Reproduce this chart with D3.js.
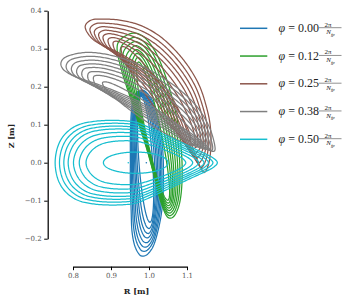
<!DOCTYPE html>
<html><head><meta charset="utf-8">
<script src="https://cdn.jsdelivr.net/npm/d3@7"></script>
<style>body{margin:0;background:#fff}svg{display:block}</style>
</head><body><svg id="c" width="357" height="303"></svg>
<script>
// ---------- data (metres) ----------
const phiLabels = ["0.00","0.12","0.25","0.38","0.50"];
const colors = ["#1f77b4","#2ca02c","#8c564b","#7f7f7f","#17becf"];
const xTicks = [0.8,0.9,1.0,1.1];
const yTicks = [-0.2,-0.1,0.0,0.1,0.2,0.3,0.4];

// outermost flux surface of each cross-section, [R, Z]
const boundaryPhi000 = [[0.979,0.191],[0.966,0.183],[0.957,0.162],[0.953,0.125],[0.951,0.072],[0.951,0.007],[0.951,-0.059],[0.953,-0.125],[0.955,-0.178],[0.962,-0.217],[0.974,-0.241],[0.984,-0.246],[0.997,-0.240],[1.011,-0.220],[1.022,-0.186],[1.032,-0.138],[1.037,-0.086],[1.038,-0.033],[1.037,0.020],[1.032,0.072],[1.022,0.125],[1.008,0.165],[0.992,0.186]];
const boundaryPhi012 = [[0.958,0.341],[0.937,0.333],[0.921,0.320],[0.916,0.301],[0.921,0.270],[0.934,0.222],[0.953,0.165],[0.974,0.099],[0.995,0.033],[1.013,-0.033],[1.026,-0.086],[1.037,-0.120],[1.047,-0.141],[1.058,-0.146],[1.071,-0.133],[1.082,-0.099],[1.087,-0.046],[1.086,0.020],[1.079,0.086],[1.066,0.151],[1.047,0.217],[1.024,0.278],[1.000,0.317],[0.979,0.336]];
const boundaryPhi025 = [[0.832,0.359],[0.842,0.336],[0.863,0.317],[0.897,0.301],[0.937,0.280],[0.984,0.251],[1.029,0.215],[1.063,0.167],[1.090,0.112],[1.108,0.059],[1.124,0.015],[1.137,-0.015],[1.147,-0.025],[1.158,0.001],[1.163,0.046],[1.161,0.099],[1.150,0.151],[1.132,0.204],[1.103,0.254],[1.066,0.299],[1.024,0.336],[0.976,0.362],[0.924,0.375],[0.876,0.378],[0.847,0.375]];
const boundaryPhi038 = [[1.174,0.038],[1.163,0.083],[1.142,0.125],[1.116,0.159],[1.082,0.191],[1.042,0.220],[1.003,0.243],[0.963,0.262],[0.918,0.278],[0.871,0.288],[0.832,0.290],[0.797,0.284],[0.776,0.275],[0.768,0.261],[0.774,0.246],[0.792,0.233],[0.824,0.220],[0.863,0.207],[0.905,0.191],[0.950,0.172],[0.997,0.149],[1.042,0.122],[1.082,0.096],[1.121,0.070],[1.150,0.046],[1.166,0.030]];
const boundaryPhi050 = [[1.180,0.000],[1.168,0.013],[1.145,0.025],[1.108,0.042],[1.068,0.061],[1.029,0.079],[0.995,0.095],[0.963,0.107],[0.924,0.111],[0.884,0.111],[0.850,0.108],[0.818,0.101],[0.792,0.087],[0.771,0.065],[0.758,0.036],[0.753,0.000],[0.758,-0.036],[0.771,-0.065],[0.792,-0.087],[0.818,-0.101],[0.850,-0.108],[0.884,-0.111],[0.924,-0.111],[0.963,-0.107],[0.995,-0.095],[1.029,-0.079],[1.068,-0.061],[1.108,-0.042],[1.145,-0.025],[1.168,-0.013]];

// innermost drawn surface: [Rc, Zc, semi-major, semi-minor, tilt deg]
const innerPhi000 = [0.991, 0.009, 0.166, 0.018, 94];
const innerPhi012 = [1.011, 0.083, 0.186, 0.020, 102];
const innerPhi025 = [1.018, 0.182, 0.152, 0.024, 126];
const innerPhi038 = [1.000, 0.129, 0.147, 0.021, -34];
const innerPhi050 = [0.965, 0.000, 0.085, 0.028, 0];

// relative position of each drawn surface between innermost (0) and boundary (1)
const levelsPhi000 = [0, 0.19, 0.34, 0.47, 0.61, 0.74, 0.86, 1];
const levelsPhi012 = [0, 0.16, 0.30, 0.43, 0.57, 0.71, 0.85, 1];
const levelsPhi025 = [0, 0.23, 0.37, 0.51, 0.63, 0.75, 0.87, 1];
const levelsPhi038 = [0, 0.24, 0.38, 0.52, 0.64, 0.76, 0.88, 1];
const levelsPhi050 = [0, 0.36, 0.50, 0.62, 0.73, 0.82, 0.91, 1];

// magnetic axis
const axisPhi000 = [0.993, 0.000];
const axisPhi012 = [1.012, 0.090];
const axisPhi025 = [1.020, 0.190];
const axisPhi038 = [1.000, 0.130];
const axisPhi050 = [0.9455, 0.000];

const sections = [
  {b: boundaryPhi000, e: innerPhi000, lv: levelsPhi000, ax: axisPhi000},
  {b: boundaryPhi012, e: innerPhi012, lv: levelsPhi012, ax: axisPhi012},
  {b: boundaryPhi025, e: innerPhi025, lv: levelsPhi025, ax: axisPhi025},
  {b: boundaryPhi038, e: innerPhi038, lv: levelsPhi038, ax: axisPhi038},
  {b: boundaryPhi050, e: innerPhi050, lv: levelsPhi050, ax: axisPhi050}
];

// ---------- helpers ----------
function crSample(pts, per){
  const n = pts.length, out = [];
  for (let i = 0; i < n; i++){
    const p0 = pts[(i-1+n)%n], p1 = pts[i], p2 = pts[(i+1)%n], p3 = pts[(i+2)%n];
    for (let k = 0; k < per; k++){
      const t = k/per, t2 = t*t, t3 = t2*t;
      out.push([0,1].map(j => 0.5*(2*p1[j] + (-p0[j]+p2[j])*t + (2*p0[j]-5*p1[j]+4*p2[j]-p3[j])*t2 + (-p0[j]+3*p1[j]-3*p2[j]+p3[j])*t3)));
    }
  }
  return out;
}
function ellipseDense(e){
  const [c0, c1, a, b, al] = e, r = al*Math.PI/180, out = [];
  for (let k = 0; k < 720; k++){
    const th = 2*Math.PI*k/720;
    out.push([c0 + a*Math.cos(th)*Math.cos(r) - b*Math.sin(th)*Math.sin(r),
              c1 + a*Math.cos(th)*Math.sin(r) + b*Math.sin(th)*Math.cos(r)]);
  }
  return out;
}
function resample(dense, N){
  const m = dense.length, cum = [0];
  for (let i = 1; i <= m; i++){
    const a = dense[i-1], b = dense[i%m];
    cum.push(cum[i-1] + Math.hypot(b[0]-a[0], b[1]-a[1]));
  }
  const L = cum[m], out = []; let j = 0;
  for (let k = 0; k < N; k++){
    const s = k*L/N;
    while (cum[j+1] < s) j++;
    const f = (s - cum[j])/((cum[j+1]-cum[j]) || 1);
    const a = dense[j], b = dense[(j+1)%m];
    out.push([a[0] + f*(b[0]-a[0]), a[1] + f*(b[1]-a[1])]);
  }
  return out;
}

// ---------- chart ----------
const svg = d3.select("#c");
const x = d3.scaleLinear().domain([0.8, 1.1]).range([73, 187]);
const y = d3.scaleLinear().domain([-0.2, 0.4]).range([238.7, 10.7]);
const line = d3.line().x(d => x(d[0])).y(d => y(d[1])).curve(d3.curveLinearClosed);

const N = 300;
sections.forEach((s, si) => {
  const B = resample(crSample(s.b, 16), N);
  const E = resample(ellipseDense(s.e), N);
  const g = svg.append("g");
  s.lv.forEach(t => {
    const surf = B.map((p, i) => [E[i][0] + t*(p[0]-E[i][0]), E[i][1] + t*(p[1]-E[i][1])]);
    g.append("path").attr("d", line(surf)).attr("fill", "none")
      .attr("stroke", colors[si]).attr("stroke-width", 1.25);
  });
  g.append("circle").attr("cx", x(s.ax[0])).attr("cy", y(s.ax[1])).attr("r", 0.8).attr("fill", colors[si]);
});

// axes
const fmt = d => d3.format(".1f")(d).replace("-", "\u2212");
const yAxis = svg.append("g").attr("transform", "translate(47.7,0)")
  .call(d3.axisLeft(y).tickValues(yTicks).tickSize(3.5).tickSizeOuter(0).tickPadding(2.5).tickFormat(fmt));
const xAxis = svg.append("g").attr("transform", "translate(0,266.7)")
  .call(d3.axisBottom(x).tickValues(xTicks).tickSize(3.5).tickSizeOuter(0).tickPadding(3).tickFormat(fmt));
[yAxis, xAxis].forEach(a => {
  a.select(".domain").attr("stroke", "#000").attr("stroke-width", 1.25);
  a.selectAll(".tick line").attr("stroke", "#000").attr("stroke-width", 1);
  a.selectAll(".tick text").attr("fill", "#555").attr("font-family", "DejaVu Serif").attr("font-size", 7);
});
svg.append("text").attr("x", 136.5).attr("y", 294).attr("text-anchor", "middle")
  .attr("font-family", "DejaVu Serif").attr("font-weight", "bold").attr("font-size", 8).attr("fill", "#222").text("R [m]");
svg.append("text").attr("transform", "translate(13.5,136) rotate(-90)").attr("text-anchor", "middle")
  .attr("font-family", "DejaVu Serif").attr("font-weight", "bold").attr("font-size", 8).attr("fill", "#222").text("Z [m]");

// legend
const lg = svg.append("g");
phiLabels.forEach((lab, i) => {
  const cy = 28.3 + i*27.75;
  lg.append("line").attr("x1", 240).attr("x2", 267.3).attr("y1", cy).attr("y2", cy)
    .attr("stroke", colors[i]).attr("stroke-width", 1.5);
  const t = lg.append("text").attr("x", 278.5).attr("y", cy + 3.6)
    .attr("font-family", "Liberation Serif").attr("font-size", 12).attr("fill", "#222");
  t.append("tspan").attr("font-style", "italic").text("\u03c6");
  t.append("tspan").text(" = " + lab);
  lg.append("text").attr("x", 328).attr("y", cy - 1.6).attr("text-anchor", "middle")
    .attr("font-family", "Liberation Serif").attr("font-size", 7).attr("fill", "#222").text("2\u03c0");
  lg.append("line").attr("x1", 319).attr("x2", 341.5).attr("y1", cy - 0.6).attr("y2", cy - 0.6)
    .attr("stroke", "#222").attr("stroke-width", 0.5);
  const d = lg.append("text").attr("x", 330.5).attr("y", cy + 6).attr("text-anchor", "middle")
    .attr("font-family", "Liberation Serif").attr("font-size", 7).attr("font-style", "italic").attr("fill", "#222");
  d.append("tspan").text("N");
  d.append("tspan").attr("font-size", 5).attr("dy", 1.5).text("fp");
});
</script>
</body></html>
